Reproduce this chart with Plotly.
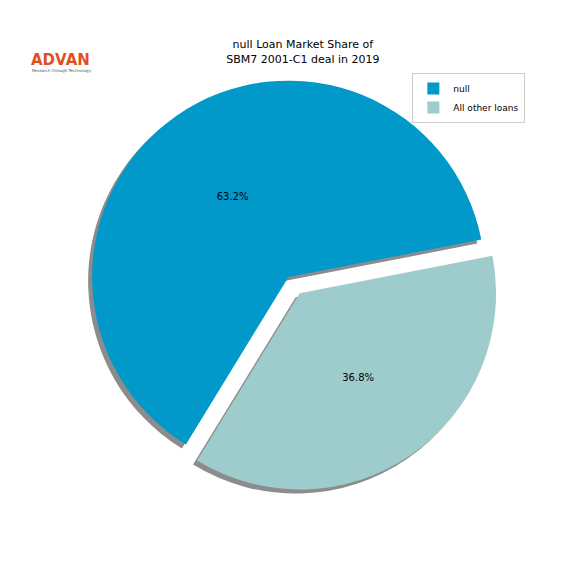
import plotly.graph_objects as go

labels = ["null", "All other loans"]
values = [63.2, 36.8]
colors = ["#0099c9", "#9ecccc"]
pulls = [0, 0.1]

dom_x = [0.112, 0.862]
dom_y = [0.158, 0.908]
sx, sy = -0.007, -0.007

fig = go.Figure()
fig.add_trace(go.Pie(labels=labels, values=values, sort=False, direction="counterclockwise",
                     rotation=211.5, pull=pulls, marker=dict(colors=["#8c8c8c", "#8c8c8c"]),
                     textinfo="none", hoverinfo="skip", showlegend=False,
                     domain=dict(x=[dom_x[0]+sx, dom_x[1]+sx], y=[dom_y[0]+sy, dom_y[1]+sy])))
fig.add_trace(go.Pie(labels=labels, values=values, sort=False, direction="counterclockwise",
                     rotation=211.5, pull=pulls, marker=dict(colors=colors),
                     texttemplate="%{percent:.1%}", textposition="inside", insidetextorientation="horizontal",
                     textfont=dict(size=10, color="black"),
                     domain=dict(x=dom_x, y=dom_y)))
fig.update_layout(
    width=576, height=576, margin=dict(l=0, r=0, t=0, b=0),
    paper_bgcolor="white", font=dict(family="DejaVu Sans", color="black"),
    title=dict(text="null Loan Market Share of<br>SBM7 2001-C1 deal in 2019", x=0.512, y=0.93,
               xanchor="center", yanchor="middle", font=dict(size=11)),
    legend=dict(x=0.702, y=0.887, xanchor="left", yanchor="top", bordercolor="#cccccc",
                borderwidth=1, font=dict(size=9), traceorder="normal",
                itemwidth=30, tracegroupgap=0),
    annotations=[
        dict(text="<b>ADVAN</b>", x=0.036, y=0.909, xref="paper", yref="paper", xanchor="left",
             yanchor="middle", showarrow=False, font=dict(size=15, color="#e0501e")),
        dict(text="Research through Technology", x=0.038, y=0.891, xref="paper", yref="paper",
             xanchor="left", yanchor="middle", showarrow=False, font=dict(size=4, color="#555555")),
    ],
)
fig.write_html("out.html")
